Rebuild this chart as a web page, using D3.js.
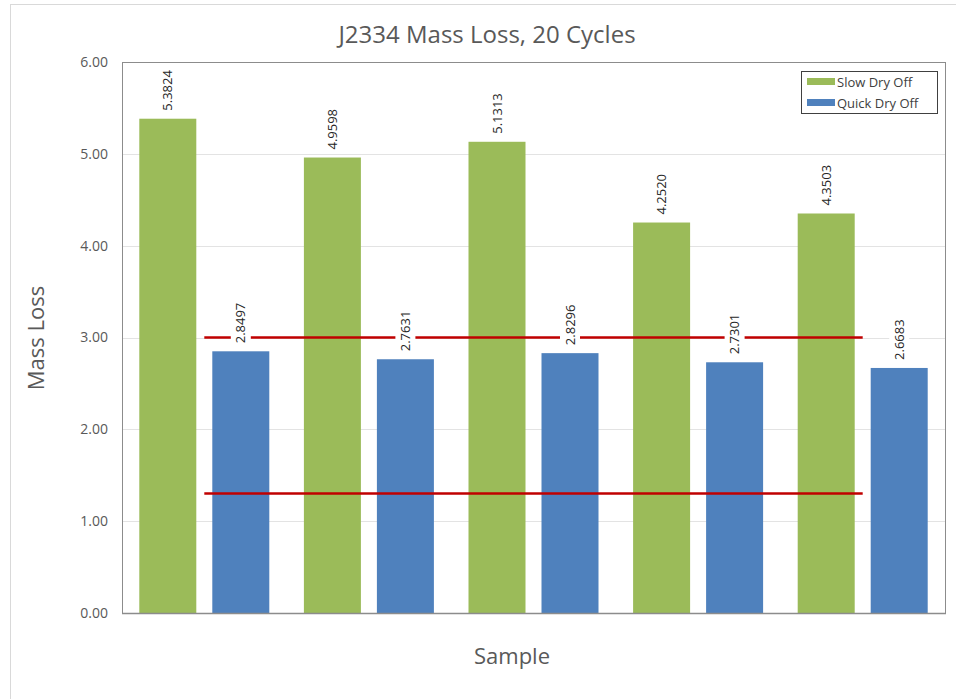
<!DOCTYPE html>
<html>
<head>
<meta charset="utf-8">
<script src="https://cdn.jsdelivr.net/npm/d3@7"></script>
<style>
  body { margin: 0; background: #fff; }
  text { font-family: "Open Sans", "Noto Sans", sans-serif; }
</style>
</head>
<body>
<div id="chart"></div>
<script>
let samples = ["1", "2", "3", "4", "5"];
let slowDry = [5.3824, 4.9598, 5.1313, 4.2520, 4.3503];
let quickDry = [2.8497, 2.7631, 2.8296, 2.7301, 2.6683];
let upperLimit = [3.0, 3.0, 3.0, 3.0, 3.0];
let lowerLimit = [1.3, 1.3, 1.3, 1.3, 1.3];
let seriesNames = ["Slow Dry Off", "Quick Dry Off"];
let yTicks = [0, 1, 2, 3, 4, 5, 6];

let W = 956, H = 699;
let margin = { top: 62, right: 11, bottom: 86, left: 122 };
let width = W - margin.left - margin.right;
let height = H - margin.top - margin.bottom;
let colors = ["#9BBB59", "#4F81BD"];

let svg = d3.select('#chart')
    .append('svg')
    .attr('width', W)
    .attr('height', H);

// outer chart frame
svg.append('rect')
    .attr('x', 10.5).attr('y', 4.5)
    .attr('width', W + 10).attr('height', H + 10)
    .attr('fill', 'none').attr('stroke', '#d9d9d9');

let g = svg.append('g')
    .attr('transform', 'translate(' + margin.left + ',' + margin.top + ')');

let x = d3.scaleBand().domain(samples).range([0, width]);
let y = d3.scaleLinear().domain([0, 6]).range([height, 0]);
let barW = 57, gap = 16;

// gridlines
g.selectAll('.grid')
    .data(yTicks.slice(1))
    .enter()
    .append('line')
    .attr('x1', 0).attr('x2', width)
    .attr('y1', function (d) { return Math.round(y(d)) + 0.5; })
    .attr('y2', function (d) { return Math.round(y(d)) + 0.5; })
    .attr('stroke', '#e3e3e3');

// y tick labels
g.selectAll('.ylab')
    .data(yTicks)
    .enter()
    .append('text')
    .attr('x', -14)
    .attr('y', function (d) { return y(d); })
    .attr('dy', '0.35em')
    .attr('text-anchor', 'end')
    .attr('font-size', 14)
    .attr('fill', '#595959')
    .text(function (d) { return d.toFixed(2); });

let bars = [];
samples.forEach(function (s, i) {
    bars.push({ s: s, v: slowDry[i], k: 0 });
    bars.push({ s: s, v: quickDry[i], k: 1 });
});

function barX(d) {
    let c = x(d.s) + x.bandwidth() / 2;
    return d.k == 0 ? c - gap / 2 - barW : c + gap / 2;
}

g.selectAll('.bar')
    .data(bars)
    .enter()
    .append('rect')
    .attr('x', barX)
    .attr('y', function (d) { return y(d.v); })
    .attr('width', barW)
    .attr('height', function (d) { return height - y(d.v); })
    .attr('fill', function (d) { return colors[d.k]; });

// red limit lines at category centres
let line = d3.line()
    .x(function (d, i) { return x(samples[i]) + x.bandwidth() / 2; })
    .y(function (d) { return y(d); });

[upperLimit, lowerLimit].forEach(function (arr) {
    g.append('path')
        .attr('d', line(arr))
        .attr('fill', 'none')
        .attr('stroke', '#C00000')
        .attr('stroke-width', 2.5);
});

// data labels with white background
let labels = g.selectAll('.dl')
    .data(bars)
    .enter()
    .append('g')
    .attr('transform', function (d) {
        return 'translate(' + (barX(d) + barW / 2) + ',' + (y(d.v) - 8) + ') rotate(-90)';
    });

labels.append('rect')
    .attr('x', -3).attr('y', -10)
    .attr('width', 48).attr('height', 20)
    .attr('fill', '#fff');

labels.append('text')
    .attr('x', 0).attr('y', 0)
    .attr('dy', '0.35em')
    .attr('font-size', 13)
    .attr('fill', '#262626')
    .text(function (d) { return d.v.toFixed(4); });

// plot area border
g.append('rect')
    .attr('x', 0.5).attr('y', 0.5)
    .attr('width', width).attr('height', height)
    .attr('fill', 'none')
    .attr('stroke', '#8c8c8c');
g.append('line')
    .attr('x1', 0).attr('x2', width + 1)
    .attr('y1', height + 0.5).attr('y2', height + 0.5)
    .attr('stroke', '#8c8c8c').attr('stroke-width', 1.5);

// title
svg.append('text')
    .attr('x', 487).attr('y', 43)
    .attr('text-anchor', 'middle')
    .attr('font-size', 24)
    .attr('fill', '#595959')
    .text('J2334 Mass Loss, 20 Cycles');

// axis titles
svg.append('text')
    .attr('x', 512).attr('y', 664)
    .attr('text-anchor', 'middle')
    .attr('font-size', 22)
    .attr('fill', '#595959')
    .text('Sample');

svg.append('text')
    .attr('transform', 'translate(44,338) rotate(-90)')
    .attr('text-anchor', 'middle')
    .attr('font-size', 22)
    .attr('fill', '#595959')
    .text('Mass Loss');

// legend
let legend = svg.append('g').attr('transform', 'translate(801,71)');
legend.append('rect')
    .attr('x', 0.5).attr('y', 0.5)
    .attr('width', 136).attr('height', 42)
    .attr('fill', '#fff')
    .attr('stroke', '#404040');

seriesNames.forEach(function (n, i) {
    legend.append('rect')
        .attr('x', 6).attr('y', 7 + i * 21)
        .attr('width', 28).attr('height', 7)
        .attr('fill', colors[i]);
    legend.append('text')
        .attr('x', 36).attr('y', 11 + i * 21)
        .attr('dy', '0.35em')
        .attr('font-size', 13)
        .attr('fill', '#404040')
        .text(n);
});
</script>
</body>
</html>
